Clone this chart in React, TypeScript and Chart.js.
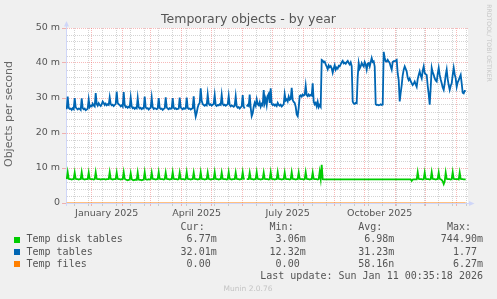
import React, { useEffect, useRef } from 'react';
import { Chart, registerables } from 'chart.js';

Chart.register(...registerables);

// x values are days counted from 1 January 2025 (one value per day)
const SERIES_START_DAY = -25;
const X_MIN = -25.7;
const X_MAX = 376.3;

const seriesNames = ['Temp disk tables', 'Temp tables', 'Temp files'];
const seriesColors = ['#00CC00', '#0066B3', '#FF8000'];

// ---- Temp disk tables (milli objects / s) ----
const diskDec2024 = [
  6.8, 8.8, 6.9, 6.8, 6.8, 6.7, 6.8, 6.8, 8.7, 6.9, 6.8, 6.8, 6.7,
  6.8, 6.8, 8.8, 6.9, 6.8, 6.7, 6.8, 6.8, 6.8, 8.7, 6.9, 6.8,
];
const diskQ1 = [
  6.8, 6.8, 6.7, 6.8, 8.8, 6.9, 6.8,
  6.8, 6.8, 6.7, 6.8, 6.8, 6.8, 6.8,
  6.7, 6.8, 6.8, 6.8, 8.8, 6.9, 6.8,
  6.7, 6.8, 6.8, 6.8, 8.7, 6.9, 6.8,
  6.8, 6.7, 6.8, 6.8, 8.8, 6.9, 6.7,
  6.6, 6.5, 6.6, 6.7, 8.5, 6.8, 6.6,
  6.5, 6.6, 6.7, 6.6, 8.7, 6.7, 6.6,
  6.6, 6.5, 6.6, 6.7, 8.8, 6.8, 6.7,
  6.7, 6.8, 6.7, 6.8, 8.7, 6.9, 6.8,
  6.8, 6.7, 6.8, 6.8, 8.8, 6.9, 6.8,
  6.8, 6.8, 6.7, 6.8, 8.7, 6.9, 6.8,
  6.8, 6.7, 6.8, 6.8, 8.8, 6.9, 6.8,
  6.8, 6.8, 6.7, 6.8, 8.7, 6.9,
];
const diskQ2 = [
  6.8, 6.8, 6.8, 6.7, 6.8, 8.8, 6.9,
  6.8, 6.8, 6.7, 6.8, 6.8, 8.7, 6.9,
  6.8, 6.8, 6.7, 6.8, 6.8, 8.8, 6.9,
  6.8, 6.8, 6.7, 6.8, 6.8, 8.7, 6.9,
  6.8, 6.7, 6.8, 6.8, 6.8, 8.8, 6.9,
  6.8, 6.8, 6.7, 6.8, 6.8, 8.7, 6.9,
  6.8, 6.8, 6.8, 6.7, 6.8, 8.8, 6.9,
  6.8, 6.7, 6.8, 6.8, 6.8, 8.7, 6.9,
  6.8, 6.8, 6.7, 6.8, 6.8, 8.8, 6.9,
  6.8, null, 6.8, 6.8, 6.8, 8.7, 6.9,
  6.8, 6.8, 6.7, 6.8, 6.8, 8.8, 6.9,
  6.8, 6.8, 6.7, 6.8, 6.8, 8.7, 6.9,
  6.8, 6.8, 6.8, 6.7, 6.8, 8.8, 6.9,
];
const diskQ3 = [
  6.8, 6.8, 6.7, 6.8, 6.8, 8.8, 6.9,
  6.8, 6.8, 6.7, 6.8, 6.8, 8.7, 6.9,
  6.8, 6.8, 6.8, 6.7, 6.8, 8.8, 6.9,
  6.8, 6.8, 6.7, 6.8, 6.8, 8.7, 6.9,
  6.8, 6.8, 6.8, 6.7, 6.8, 8.8, 6.9,
  6.8, 6.8, 6.7, 6.8, 6.8, 8.7, 6.9,
  6.8, 6.8, 6.8, 6.7, 6.8, 8.9, 6.9,
  10.9, 6.8, 6.77, 6.77, 6.77, 6.77, 6.77,
  6.77, 6.77, 6.77, 6.77, 6.77, 6.77, 6.77,
  6.77, 6.77, 6.77, 6.77, 6.77, 6.77, 6.77,
  6.77, 6.77, 6.77, 6.77, 6.77, 6.77, 6.77,
  6.77, 6.77, 6.77, 6.77, 6.77, 6.77, 6.77,
  6.77, 6.77, 6.77, 6.77, 6.77, 6.77, 6.77,
  6.77,
];
const diskQ4 = [
  6.77, 6.77, 6.77, 6.77, 6.77, 6.77, 6.77,
  6.77, 6.77, 6.77, 6.77, 6.77, 6.77, 6.77,
  6.77, 6.77, 6.77, 6.77, 6.77, 6.77, 6.77,
  6.77, 6.77, 6.77, 6.77, 6.77, 6.77, 6.77,
  6.77, 6.77, 6.77, 6.77, 6.77, 6.77, 6.77,
  6.77, 6.77, 6.77, 6.77, 6.77, 6.77, 6.77,
  6.77, 6.77, 6.77, 6.77, 6.77, 6.3, 6.7,
  6.77, 6.77, 6.77, 6.77, 8.8, 6.9, 6.8,
  6.8, 6.8, 6.7, 6.8, 8.7, 6.9, 6.8,
  6.8, 6.8, 6.7, 6.8, 8.8, 6.9, 6.8,
  6.8, 6.7, 6.8, 6.8, 8.7, 6.9, 6.8,
  6.6, 6.2, 5.4, 6.2, 8.7, 6.9, 6.8,
  6.8, 6.8, 6.7, 6.8, 8.8, 6.9, 6.8,
  6.8,
];
const diskJan2026 = [6.8, 6.8, 6.7, 8.7, 6.9, 6.8, 6.8, 6.77, 6.77, 6.77];

// ---- Temp tables (milli objects / s) ----
const tablesDec2024 = [
  26.8, 30.4, 27.2, 26.9, 27.0, 26.6, 27.1, 26.8, 30.0, 27.3, 27.0, 26.7, 27.0,
  26.9, 26.6, 29.9, 27.1, 26.8, 27.0, 26.5, 26.7, 26.9, 29.6, 27.4, 27.8,
];
const tablesQ1 = [
  27.6, 28.4, 27.9, 27.6, 31.4, 28.3, 27.8,
  28.5, 28.0, 27.7, 28.2, 29.0, 28.6, 28.0,
  28.4, 27.9, 28.2, 28.0, 30.2, 28.3, 27.9,
  28.1, 27.7, 28.0, 28.3, 31.8, 28.6, 28.2,
  28.0, 27.6, 27.9, 27.5, 31.7, 28.0, 27.4,
  27.6, 27.2, 27.5, 27.3, 30.1, 27.6, 27.1,
  27.3, 26.9, 27.2, 27.0, 30.0, 27.4, 27.0,
  27.2, 26.8, 27.1, 27.0, 30.4, 27.3, 27.0,
  27.1, 26.7, 27.0, 27.2, 30.1, 27.4, 26.9,
  27.1, 27.0, 26.8, 27.0, 30.0, 27.2, 26.9,
  27.0, 26.6, 26.9, 27.1, 30.2, 27.3, 27.0,
  26.8, 27.1, 26.9, 27.0, 30.0, 27.2, 26.9,
  27.1, 26.8, 26.9, 27.0, 30.1, 27.3,
];
const tablesQ2 = [
  27.0, 26.8, 27.1, 26.9, 27.0, 30.1, 27.2,
  26.9, 27.0, 26.7, 26.9, 27.1, 30.5, 26.5,
  24.7, 25.8, 27.3, 28.2, 28.6, 32.8, 29.2,
  28.3, 28.0, 27.8, 28.1, 27.9, 31.0, 28.4,
  28.0, 28.2, 27.8, 28.1, 28.3, 30.8, 28.0,
  27.7, 28.0, 27.9, 28.2, 28.0, 30.9, 28.3,
  27.9, 28.1, 27.8, 28.0, 28.2, 30.6, 28.0,
  27.6, 27.9, 27.7, 27.5, 27.8, 30.5, 27.6,
  27.2, 27.4, 27.0, 27.3, 27.6, 30.8, 27.5,
  27.0, null, 27.6, 28.0, 27.7, 31.0, 27.2,
  24.8, 25.6, 27.5, 28.6, 27.8, 29.6, 28.2,
  27.9, 28.8, 27.5, 28.3, 27.9, 32.3, 28.6,
  29.8, 28.0, 30.6, 31.2, 28.6, 32.8, 28.3,
];
const tablesQ3 = [
  28.0, 28.2, 27.8, 28.1, 27.7, 28.6, 28.0,
  27.8, 28.1, 27.6, 27.9, 28.2, 31.1, 29.3,
  29.6, 29.0, 30.4, 29.5, 29.7, 32.9, 29.4,
  28.9, 28.6, 27.5, 25.3, 24.8, 27.2, 30.6,
  30.8, 30.4, 31.0, 30.7, 30.9, 33.5, 30.8,
  30.5, 31.0, 30.6, 30.9, 30.7, 34.2, 29.0,
  28.2, 28.6, 27.6, 28.9, 27.4, 28.0, 27.5,
  40.9, 40.7, 40.2, 40.4, 39.6, 39.0, 38.2,
  39.3, 38.8, 39.1, 38.5, 37.2, 38.4, 39.4,
  38.1, 38.7, 38.4, 39.2, 39.0, 39.6, 40.2,
  40.6, 39.9, 40.1, 39.8, 40.3, 40.6, 40.0,
  39.6, 40.2, 39.1, 29.0, 28.4, 28.3, 28.6,
  28.5, 36.0, 40.0, 38.4, 39.0, 40.0, 39.4,
  39.0,
];
const tablesQ4 = [
  40.3, 39.6, 38.1, 39.8, 40.0, 39.0, 40.2,
  41.4, 40.3, 40.5, 39.0, 28.2, 28.0, 28.1,
  27.9, 28.0, 28.2, 28.0, 28.1, 43.2, 41.5,
  40.5, 40.4, 40.9, 40.4, 40.0, 39.0, 38.1,
  40.3, 40.5, 40.5, 40.7, 40.9, 37.0, 35.1,
  29.0, 31.5, 33.7, 36.5, 38.1, 39.0, 38.3,
  37.6, 35.8, 35.1, 35.6, 34.8, 34.2, 33.7,
  34.1, 34.7, 33.9, 33.2, 35.4, 36.6, 37.6,
  36.4, 35.6, 37.8, 39.0, 37.1, 36.8, 36.6,
  33.5, 31.1, 28.1, 33.0, 38.6, 37.3, 36.6,
  35.6, 35.0, 34.7, 36.9, 38.6, 36.6, 35.3,
  34.2, 33.0, 32.3, 34.2, 36.5, 38.1, 35.4,
  33.7, 32.3, 33.5, 34.2, 36.6, 38.6, 36.8,
  35.6,
];
const tablesJan2026 = [33.2, 34.5, 35.1, 35.9, 36.6, 34.2, 31.5, 31.3, 32.0, 32.0];

// ---- Temp files: flat at zero over the whole period ----
const filesDays = [-25, 374];
const filesVals = [0, 0];

// ---- axis ticks ----
const monthStartDays = [0, 31, 59, 90, 120, 151, 181, 212, 243, 273, 304, 334, 365];
const biweeklyDays = [-17, -3, 11, 25, 39, 53, 67, 81, 95, 109, 123, 137, 165, 179, 193, 207, 221, 235, 249, 263, 277, 291, 305, 319, 333, 347, 361, 375];
const xLabelDays = [15, 105, 196, 288];
const xLabelTexts = ['January 2025', 'April 2025', 'July 2025', 'October 2025'];

const yTickValues = [0, 2, 4, 6, 8, 10, 12, 14, 16, 18, 20, 22, 24, 26, 28, 30, 32, 34, 36, 38, 40, 42, 44, 46, 48, 50];
const yLabelValues = [0, 10, 20, 30, 40, 50];
const yLabelTexts = ['0', '10 m', '20 m', '30 m', '40 m', '50 m'];

// ---- legend table ----
const legendCur = ['6.77m', '32.01m', '0.00 '];
const legendMin = ['3.06m', '12.32m', '0.00 '];
const legendAvg = ['6.98m', '31.23m', '58.16n'];
const legendMax = ['744.90m', '1.77 ', '6.27m'];
const legendHeaders = ['Cur:  ', 'Min:  ', 'Avg:  ', 'Max:  '];
const lastUpdate = 'Last update: Sun Jan 11 00:35:18 2026';

const MAJOR_GRID = 'rgba(235, 80, 80, 0.4)';
const MINOR_GRID = 'rgba(140, 140, 140, 0.38)';
const AXIS = '#CFD6F8';
const TEXT = '#555555';

const toPoints = (vals: (number | null)[], start: number) =>
  vals.map((v, i) => ({ x: start + i, y: v }));

const decorPlugin = {
  id: 'muninDecor',
  beforeDraw(chart: any) {
    const { ctx, chartArea: a } = chart;
    ctx.save();
    ctx.fillStyle = '#F0F0F0';
    ctx.fillRect(0, 0, chart.width, chart.height);
    ctx.fillStyle = '#FFFFFF';
    ctx.fillRect(a.left, a.top, a.right - a.left, a.bottom - a.top);
    ctx.restore();
  },
  afterDraw(chart: any) {
    const { ctx, chartArea: a } = chart;
    const ax = Math.round(a.left) + 0.5;
    const ay = Math.round(a.bottom) + 0.5;
    ctx.save();
    ctx.strokeStyle = AXIS;
    ctx.fillStyle = AXIS;
    ctx.lineWidth = 1;
    ctx.beginPath();
    ctx.moveTo(ax, a.top);
    ctx.lineTo(ax, a.top - 3);
    ctx.moveTo(ax, a.bottom);
    ctx.lineTo(ax, a.bottom + 3);
    ctx.moveTo(a.right, ay);
    ctx.lineTo(a.right + 2, ay);
    ctx.stroke();
    ctx.beginPath();
    ctx.moveTo(ax - 2.5, a.top - 1.5);
    ctx.lineTo(ax + 2.5, a.top - 1.5);
    ctx.lineTo(ax, a.top - 7);
    ctx.closePath();
    ctx.fill();
    ctx.beginPath();
    ctx.moveTo(a.right + 1, ay - 2.5);
    ctx.lineTo(a.right + 1, ay + 2.5);
    ctx.lineTo(a.right + 6.5, ay);
    ctx.closePath();
    ctx.fill();
    ctx.restore();
  },
};

export default function App() {
  const canvasRef = useRef<HTMLCanvasElement | null>(null);

  useEffect(() => {
    document.body.style.margin = '0';
    const canvas = canvasRef.current;
    if (!canvas) return;

    const disk = [...diskDec2024, ...diskQ1, ...diskQ2, ...diskQ3, ...diskQ4, ...diskJan2026];
    const tables = [...tablesDec2024, ...tablesQ1, ...tablesQ2, ...tablesQ3, ...tablesQ4, ...tablesJan2026];
    const files = filesDays.map((d, i) => ({ x: d, y: filesVals[i] }));

    const xTickValues = [...monthStartDays, ...biweeklyDays, ...xLabelDays]
      .filter((v) => v >= X_MIN && v <= X_MAX)
      .sort((p, q) => p - q);

    const xGridColor = (v: number) =>
      monthStartDays.includes(v) ? MAJOR_GRID : biweeklyDays.includes(v) ? MINOR_GRID : 'rgba(0,0,0,0)';

    const tickFont = { family: '"DejaVu Sans", sans-serif', size: 9.5 };

    const chart = new Chart(canvas, {
      type: 'line',
      data: {
        datasets: [
          {
            label: seriesNames[2],
            data: files,
            borderColor: seriesColors[2],
            borderWidth: 1,
            pointRadius: 0,
            tension: 0,
            order: 0,
          },
          {
            label: seriesNames[1],
            data: toPoints(tables, SERIES_START_DAY),
            borderColor: seriesColors[1],
            borderWidth: 1.8,
            pointRadius: 0,
            tension: 0,
            order: 1,
          },
          {
            label: seriesNames[0],
            data: toPoints(disk, SERIES_START_DAY),
            borderColor: seriesColors[0],
            borderWidth: 1.8,
            pointRadius: 0,
            tension: 0,
            order: 2,
          },
        ],
      },
      options: {
        animation: false,
        responsive: false,
        devicePixelRatio: 1,
        events: [],
        layout: { padding: { left: 0, top: 28, right: 29, bottom: 0 } },
        plugins: {
          legend: { display: false },
          title: { display: false },
          tooltip: { enabled: false },
        },
        scales: {
          x: {
            type: 'linear',
            min: X_MIN,
            max: X_MAX,
            afterBuildTicks: (s: any) => {
              s.ticks = xTickValues.map((v) => ({ value: v }));
            },
            afterFit: (s: any) => {
              s.height = 96;
            },
            ticks: {
              autoSkip: false,
              maxRotation: 0,
              minRotation: 0,
              padding: 2,
              color: TEXT,
              font: tickFont,
              callback: (v: any) => {
                const i = xLabelDays.indexOf(Number(v));
                return i >= 0 ? xLabelTexts[i] : '';
              },
            },
            grid: {
              color: (c: any) => xGridColor(c.tick ? c.tick.value : NaN),
              tickColor: (c: any) => xGridColor(c.tick ? c.tick.value : NaN),
              tickLength: 3,
              lineWidth: 1,
            },
            border: { display: true, color: AXIS, width: 1, dash: [1, 1] },
          },
          y: {
            type: 'linear',
            min: 0,
            max: 50,
            afterBuildTicks: (s: any) => {
              s.ticks = yTickValues.map((v) => ({ value: v }));
            },
            afterFit: (s: any) => {
              s.width = 66;
            },
            ticks: {
              autoSkip: false,
              padding: 2,
              color: TEXT,
              font: tickFont,
              callback: (v: any) => {
                const i = yLabelValues.indexOf(Number(v));
                return i >= 0 ? yLabelTexts[i] : '';
              },
            },
            grid: {
              color: (c: any) => (c.tick && yLabelValues.includes(c.tick.value) ? MAJOR_GRID : MINOR_GRID),
              tickColor: (c: any) => (c.tick && yLabelValues.includes(c.tick.value) ? MAJOR_GRID : 'rgba(0,0,0,0)'),
              tickLength: 4,
              lineWidth: 1,
            },
            border: { display: true, color: AXIS, width: 1, dash: [1, 1] },
          },
        },
      },
      plugins: [decorPlugin],
    } as any);

    return () => chart.destroy();
  }, []);

  const mono = '"DejaVu Sans Mono", monospace';
  const rowTops = [234.4, 246.6, 258.8];
  const colRights = [216.7, 305.7, 394.3, 483];
  const cols = [legendCur, legendMin, legendAvg, legendMax];

  const abs = (extra: React.CSSProperties): React.CSSProperties => ({
    position: 'absolute',
    whiteSpace: 'pre',
    ...extra,
  });

  return (
    <div
      style={{
        position: 'fixed',
        left: 0,
        top: 0,
        width: 497,
        height: 299,
        background: '#F0F0F0',
        overflow: 'hidden',
        fontFamily: '"DejaVu Sans", sans-serif',
        color: TEXT,
      }}
    >
      <canvas ref={canvasRef} width={497} height={299} style={{ position: 'absolute', left: 0, top: 0 }} />

      <div style={abs({ left: 0, top: 13.1, width: 497, textAlign: 'center', fontSize: 12.5, lineHeight: '12.5px' })}>
        Temporary objects - by year
      </div>

      <div
        style={abs({
          left: -91,
          top: 108,
          width: 200,
          height: 12,
          textAlign: 'center',
          fontSize: 11,
          lineHeight: '12px',
          fontWeight: 'normal',
          color: '#666666',
          transform: 'rotate(-90deg)',
        })}
      >
        Objects per second
      </div>

      <div
        style={abs({
          left: 489 - 60,
          top: 40,
          width: 120,
          height: 6,
          textAlign: 'center',
          fontSize: 6.2,
          lineHeight: '6px',
          color: '#C8C8C8',
          transform: 'rotate(90deg)',
        })}
      >
        RRDTOOL/ TOBI OETIKER
      </div>

      {legendHeaders.map((h, c) => (
        <div
          key={'h' + c}
          style={abs({ right: 497 - colRights[c], top: 222.3, fontFamily: mono, fontSize: 10, lineHeight: '10px' })}
        >
          {h}
        </div>
      ))}

      {seriesNames.map((name, r) => (
        <React.Fragment key={name}>
          <div
            style={{
              position: 'absolute',
              left: 14,
              top: rowTops[r] + 2.4,
              width: 6,
              height: 6,
              background: seriesColors[r],
            }}
          />
          <div style={abs({ left: 26.5, top: rowTops[r], fontFamily: mono, fontSize: 10, lineHeight: '10px' })}>
            {name}
          </div>
          {cols.map((col, c) => (
            <div
              key={c}
              style={abs({ right: 497 - colRights[c], top: rowTops[r], fontFamily: mono, fontSize: 10, lineHeight: '10px' })}
            >
              {col[r]}
            </div>
          ))}
        </React.Fragment>
      ))}

      <div style={abs({ right: 497 - 483, top: 271, fontFamily: mono, fontSize: 10, lineHeight: '10px' })}>
        {lastUpdate}
      </div>

      <div
        style={abs({
          left: 0,
          width: 496,
          top: 284.7,
          textAlign: 'center',
          fontSize: 7.5,
          lineHeight: '7.5px',
          color: '#C4C4C4',
        })}
      >
        Munin 2.0.76
      </div>
    </div>
  );
}
